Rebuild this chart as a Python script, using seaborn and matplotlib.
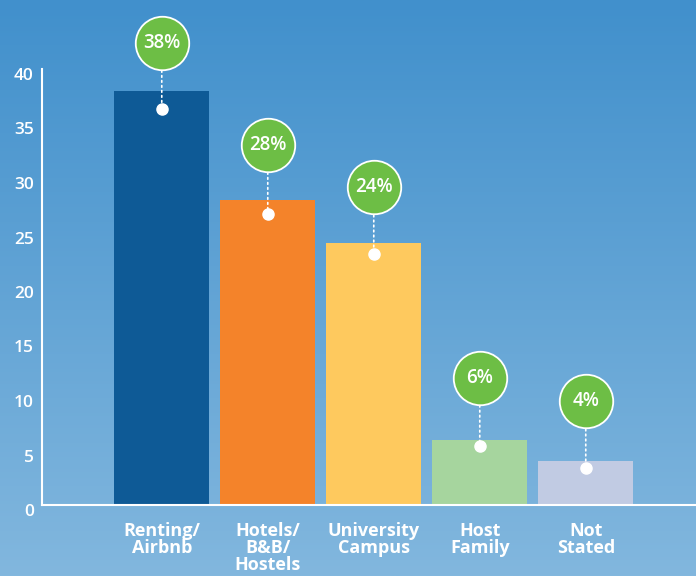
import numpy as np
import matplotlib
matplotlib.use("Agg")
import matplotlib.pyplot as plt
from matplotlib.colors import LinearSegmentedColormap
from matplotlib.transforms import ScaledTranslation, offset_copy
import seaborn as sns

categories = ["Renting/\nAirbnb", "Hotels/\nB&B/\nHostels", "University\nCampus", "Host\nFamily", "Not\nStated"]
values = [38, 28, 24, 6, 4]
labels = ["38%", "28%", "24%", "6%", "4%"]
bar_colors = ["#0E5A96", "#F4832A", "#FEC95E", "#A6D59E", "#C1CBE3"]
y_ticks = [0, 5, 10, 15, 20, 25, 30, 35, 40]

sns.set_style("white")
plt.rcParams["font.family"] = ["Open Sans", "DejaVu Sans"]

fig = plt.figure(figsize=(6.96, 5.76), dpi=100)

# gradient background
bg = fig.add_axes([0, 0, 1, 1], zorder=0)
grad = LinearSegmentedColormap.from_list("bg", ["#4190CC", "#82B7DE"])
bg.imshow(np.linspace(0, 1, 256).reshape(-1, 1), aspect="auto", cmap=grad, extent=[0, 1, 0, 1])
bg.set_axis_off()

ax = fig.add_axes([42 / 696, 1 - 505 / 576, 1 - 42 / 696, 436 / 576], zorder=1)
ax.set_facecolor("none")
sns.barplot(x=categories, y=values, hue=categories, palette=bar_colors, legend=False,
            width=0.9, saturation=1, linewidth=0, ax=ax)

ax.set_xlim(-1.13, 5.04)
ax.set_ylim(0, 40)
ax.set_yticks(y_ticks)
ax.set_xlabel("")
ax.set_ylabel("")

for side in ["top", "right"]:
    ax.spines[side].set_visible(False)
ax.spines["left"].set_color("white")
ax.spines["bottom"].set_color("white")
ax.spines["left"].set_linewidth(1.5)
ax.spines["bottom"].set_linewidth(1.5)

ax.tick_params(axis="y", direction="in", length=12, width=1.2, colors="white",
               labelsize=12.5, pad=6)
ax.tick_params(axis="x", length=0, colors="white", labelsize=13, pad=12)
for lab in ax.get_yticklabels():
    lab.set_fontweight("semibold")
    lab.set_transform(lab.get_transform() + ScaledTranslation(0, -5 / 100, fig.dpi_scale_trans))
for lab in ax.get_xticklabels():
    lab.set_fontweight("bold")
    lab.set_linespacing(0.95)
    lab.set_va("top")

# callout bubbles (pixel offsets of bubble and dot relative to bar top)
lift = [48, 55, 56, 62, 60]
drop = [18, 14, 11, 6, 7]
for i, (v, txt) in enumerate(zip(values, labels)):
    dot_tr = offset_copy(ax.transData, fig=fig, x=0, y=-drop[i], units="dots")
    top_tr = offset_copy(ax.transData, fig=fig, x=0, y=lift[i], units="dots")
    ax.annotate("", xy=(i, v), xycoords=dot_tr, xytext=(i, v), textcoords=top_tr,
                arrowprops=dict(arrowstyle="-", color="white", linestyle=(0, (1, 2)),
                                lw=1.2, shrinkA=20, shrinkB=0), annotation_clip=False)
    ax.plot(i, v, "o", ms=8, color="white", transform=dot_tr, clip_on=False, zorder=5)
    ax.plot(i, v, "o", ms=38.5, color="#6DBE45", mec="white", mew=1.3,
            transform=top_tr, clip_on=False, zorder=5)
    ax.text(i, v, txt, transform=top_tr, ha="center", va="center", color="white",
            fontsize=13.5, fontweight="semibold", zorder=6)

fig.savefig("out.png", dpi=100)
